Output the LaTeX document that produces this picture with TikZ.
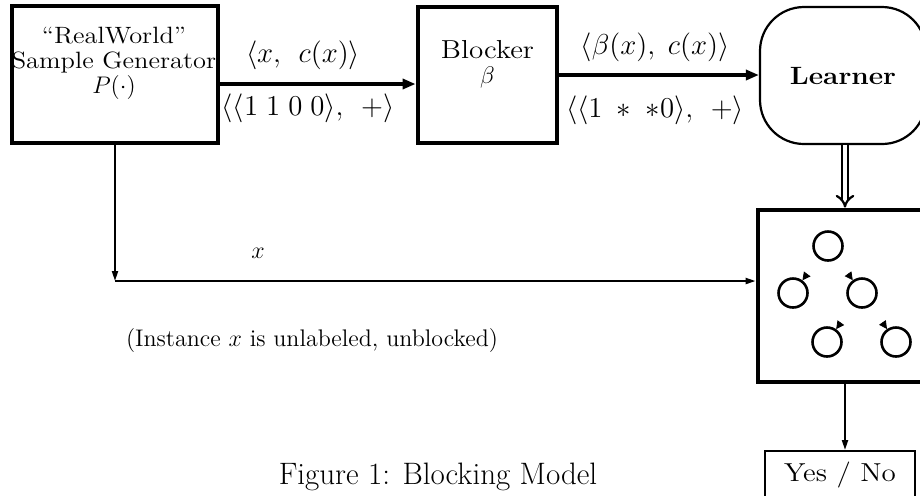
\documentclass[tikz,border=0pt]{standalone}
\usepackage{fontspec}
\newfontfamily\widerm{Latin Modern Roman}[FakeStretch=1.12,Ligatures=TeX]
\usetikzlibrary{arrows.meta,positioning}

\begin{document}
\begin{tikzpicture}[x=0.5pt,y=-0.5pt,
    every node/.style={font=\fontsize{12}{14}\selectfont},
    big/.style={font=\widerm\fontsize{11.8}{12.5}\selectfont},
    pair/.style={font=\fontsize{14}{16}\selectfont},
    heavybox/.style={draw,line width=2.4pt,inner sep=0pt},
    bigarrow/.style={line width=2.4pt,-{Triangle[length=6.5pt,width=5pt]}},
    thinarrow/.style={line width=1pt,-{Triangle[length=5pt,width=3pt]}},
    unit/.style={circle,draw,line width=1.3pt,minimum size=14.5pt,inner sep=0pt},
    tip/.style={-{Triangle[length=4pt,width=4pt]},shorten <=10.5pt}]
    \useasboundingbox (0,0) rectangle (920,495);
    \clip (0,0) rectangle (920,495);
    % boxes of the pipeline
    \node[heavybox,minimum width=103pt,minimum height=68.5pt] (gen) at (115,74.5) {};
    \node[big,align=center] (gentext) at (114,63) {``RealWorld''\\Sample Generator\\$P(\cdot)$};
    \node[heavybox,minimum width=69.5pt,minimum height=68pt] (block) at (487.5,75) {};
    \node[big,align=center] (blocktext) at (487.5,64) {\fontsize{13}{12}\selectfont Blocker\\$\beta$};
    \node[draw,line width=1.1pt,rounded corners=22pt,minimum width=83pt,minimum height=68.5pt,
          font=\widerm\fontsize{12.5}{16}\bfseries] (learner) at (843,75.5) {Learner};
    \node[heavybox,minimum width=87pt,minimum height=86pt] (clf) at (845,296) {};
    \node[draw,line width=1pt,minimum width=75pt,minimum height=24pt,
          font=\widerm\fontsize{13}{16}\selectfont] (yesno) at (840,475) {Yes / No};
    % labelled examples
    \draw[bigarrow] ([yshift=-4.75pt]gen.east) -- ([yshift=-4.75pt]gen.east -| block.west);
    \node[pair] (lab1) at (303,55) {$\langle x,\;\, c(x)\rangle$};
    \node[pair] (ex1) at (308,108) {$\langle\langle 1\;1\;0\;0\rangle,\;\, +\rangle$};
    \draw[bigarrow] (block.east) -- (block.east -| learner.west);
    \node[pair] (lab2) at (655,47) {$\langle\beta(x),\; c(x)\rangle$};
    \node[pair] (ex2) at (655,110) {$\langle\langle 1\; *\; *0\rangle,\;\, +\rangle$};
    \draw[double,line width=1.1pt,double distance=2pt,-{Implies}] (clf.north |- learner.south) -- (clf.north);
    \draw[thinarrow] (clf.south) -- (clf.south |- yesno.north);
    % unlabeled instance
    \coordinate (turn) at (115,281);
    \draw[thinarrow] (gen.south) -- (turn);
    \draw[thinarrow] (turn) -- (turn -| clf.west);
    \node (xlab) at (258,253) {$x$};
    \node (note) at (312,340) {(Instance $x$ is unlabeled, unblocked)};
    % hypothesis tree
    \node[unit] (c1) at (828,246) {};
    \node[unit] (c2) at (793,293) {};
    \node[unit] (c3) at (862,293) {};
    \node[unit] (c4) at (827,342) {};
    \node[unit] (c5) at (896,342) {};
    \foreach \a/\b in {c1/c2,c1/c3,c3/c4,c3/c5}
      \draw[tip] (\a) -- (\b);
    \node[font=\fontsize{15.5}{18}\selectfont] (caption) at (438,477) {Figure 1: Blocking Model};
\end{tikzpicture}
\end{document}
